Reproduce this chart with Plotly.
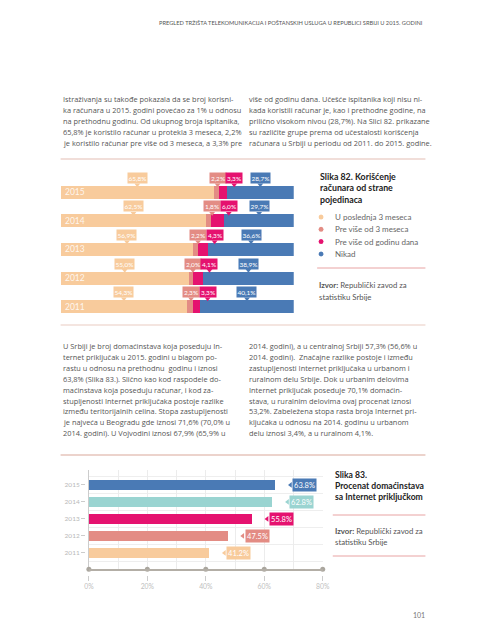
import plotly.graph_objects as go

W, H = 489, 640
def px(x): return x / W
def py(y): return 1 - y / H

FONT = "Lato"
BODY_FONT = "Open Sans"

# ---------------- data ----------------
years = [2011, 2012, 2013, 2014, 2015]
series_names = ["U poslednja 3 meseca", "Pre više od 3 meseca", "Pre više od godinu dana", "Nikad"]
last_3_months = [54.3, 55.0, 56.9, 62.5, 65.8]
over_3_months = [2.3, 2.0, 2.2, 1.8, 2.2]
over_1_year = [3.3, 4.1, 4.3, 6.0, 3.3]
never = [40.1, 38.9, 36.6, 29.7, 28.7]

internet_years = [2011, 2012, 2013, 2014, 2015]
internet_share = [41.2, 47.5, 55.8, 62.8, 63.8]
x_ticks = [0, 20, 40, 60, 80]
x_tick_labels = ["0%", "20%", "40%", "60%", "80%"]

series_colors = ["#F8CB9C", "#E38C84", "#E5126F", "#4A7AB5"]
internet_colors = ["#F8CB9C", "#E38C84", "#E5126F", "#9AD4D1", "#4A7AB5"]

header = "PREGLED TRŽIŠTA TELEKOMUNIKACIJA I POŠTANSKIH USLUGA U REPUBLICI SRBIJI U 2015. GODINI"
para1_col1 = [
    "Istraživanja su takođe pokazala da se broj korisni-",
    "ka računara u 2015. godini povećao za 1% u odnosu",
    "na prethodnu godinu. Od ukupnog broja ispitanika,",
    "65,8% je koristilo računar u protekla 3 meseca, 2,2%",
    "je koristilo računar pre više od 3 meseca, a 3,3% pre",
]
para1_col2 = [
    "više od godinu dana. Učešće ispitanika koji nisu ni-",
    "kada koristili računar je, kao i prethodne godine, na",
    "prilično visokom nivou (28,7%). Na Slici 82. prikazane",
    "su različite grupe prema od učestalosti korišćenja",
    "računara u Srbiji u periodu od 2011. do 2015. godine.",
]
para2_col1 = [
    "U Srbiji je broj domaćinstava koja poseduju In-",
    "ternet priključak u 2015. godini u blagom po-",
    "rastu u odnosu na prethodnu  godinu i iznosi",
    "63,8% (Slika 83.). Slično kao kod raspodele do-",
    "maćinstava koja poseduju računar, i kod za-",
    "stupljenosti Internet priključaka postoje razlike",
    "između teritorijalnih celina. Stopa zastupljenosti",
    "je najveća u Beogradu gde iznosi 71,6% (70,0% u",
    "2014. godini). U Vojvodini iznosi 67,9% (65,9% u",
]
para2_col2 = [
    "2014. godini), a u centralnoj Srbiji 57,3% (56,6% u",
    "2014. godini).  Značajne razlike postoje i između",
    "zastupljenosti Internet priključaka u urbanom i",
    "ruralnom delu Srbije. Dok u urbanim delovima",
    "Internet priključak poseduje 70,1% domaćin-",
    "stava, u ruralnim delovima ovaj procenat iznosi",
    "53,2%. Zabeležena stopa rasta broja Internet pri-",
    "ključaka u odnosu na 2014. godinu u urbanom",
    "delu iznosi 3,4%, a u ruralnom 4,1%.",
]
title82 = ["Slika 82. Korišćenje", "računara od strane", "pojedinaca"]
title83 = ["Slika 83.", "Procenat domaćinstava", "sa Internet priključkom"]
source_lines = ["<b>Izvor:</b> Republički zavod za", "statistiku Srbije"]

# ---------------- geometry ----------------
C1_LEFT, C1_RIGHT = 57, 296
C1_TOP, C1_BOT = 165.4, 322.2
C1_RANGE = [2010.45, 2015.95]
C1_PXU = (C1_BOT - C1_TOP) / (C1_RANGE[1] - C1_RANGE[0])
C1_PXPCT = (C1_RIGHT - C1_LEFT) / 100

C2_LEFT, C2_RIGHT = 86, 325.7
C2_TOP, C2_BOT = 470, 569.3
C2_RANGE = [2010.04, 2015.88]
C2_PXPCT = (C2_RIGHT - C2_LEFT) / 80

fig = go.Figure()
annotations = []
shapes = []

def text(x, y, s, size=7.5, color="#555555", anchor="left", bold=False, family=FONT):
    annotations.append(dict(
        x=px(x), y=py(y), xref="paper", yref="paper", text=("<b>%s</b>" % s) if bold else s,
        showarrow=False, xanchor=anchor, yanchor="middle",
        font=dict(family=family, size=size, color=color)))

def hline(x0, x1, y, color, width=1):
    shapes.append(dict(type="line", xref="paper", yref="paper", x0=px(x0), x1=px(x1),
                       y0=py(y), y1=py(y), line=dict(color=color, width=width)))

# ---------------- chart 1: stacked bars ----------------
all_series = [last_3_months, over_3_months, over_1_year, never]
for name, vals, col in zip(series_names, all_series, series_colors):
    fig.add_trace(go.Bar(y=years, x=vals, orientation="h", name=name, marker=dict(color=col, line=dict(width=0)),
                         width=0.456, xaxis="x", yaxis="y", showlegend=False, hoverinfo="skip"))

tri_x, tri_y, tri_c = [], [], []
for i, yr in enumerate(years):
    vals = [s[i] for s in all_series]
    cum = [sum(vals[:k]) for k in range(5)]
    centers = [(cum[k] + cum[k + 1]) / 2 for k in range(4)]
    labels = [("%.1f%%" % v).replace(".", ",") for v in vals]
    widths = [16 if len(l) <= 4 else 19 for l in labels]
    meet = centers[2] + 3 / C1_PXPCT
    xs = [centers[0], meet - (widths[1] / 2 + 0.5) / C1_PXPCT, meet + (widths[2] / 2 + 0.5) / C1_PXPCT, centers[3]]
    for k in range(4):
        annotations.append(dict(x=xs[k], y=yr, xref="x", yref="y", yshift=14.5, text=labels[k],
                                showarrow=False, bgcolor=series_colors[k], width=widths[k], height=10,
                                borderpad=0, font=dict(family=FONT, size=6.5, color="white")))
        tri_x.append(xs[k]); tri_y.append(yr + 7.8 / C1_PXU); tri_c.append(series_colors[k])
    annotations.append(dict(x=0, y=yr, xref="x", yref="y", xanchor="left", xshift=2, text=str(yr),
                            showarrow=False, font=dict(family=FONT, size=8.5, color="rgba(255,255,255,0.85)")))
fig.add_trace(go.Scatter(x=tri_x, y=tri_y, mode="markers", xaxis="x", yaxis="y", showlegend=False,
                         hoverinfo="skip", cliponaxis=False,
                         marker=dict(symbol="triangle-down", size=5, color=tri_c, line=dict(width=0))))

# ---------------- chart 2: internet bars ----------------
fig.add_trace(go.Bar(y=internet_years, x=internet_share, orientation="h", width=0.59,
                     marker=dict(color=internet_colors, line=dict(width=0)),
                     xaxis="x2", yaxis="y2", showlegend=False, hoverinfo="skip"))
t2x = [v + 15.5 / C2_PXPCT for v in internet_share]
fig.add_trace(go.Scatter(x=t2x, y=internet_years, mode="markers", xaxis="x2", yaxis="y2", showlegend=False,
                         hoverinfo="skip", cliponaxis=False,
                         marker=dict(symbol="triangle-left", size=5, color=internet_colors, line=dict(width=0))))
for yr, v, col in zip(internet_years, internet_share, internet_colors):
    annotations.append(dict(x=v, y=yr, xref="x2", yref="y2", xanchor="left", xshift=17,
                            text="%.1f%%" % v, showarrow=False, bgcolor=col, width=23, height=12, borderpad=0,
                            font=dict(family=FONT, size=7.5, color="white")))
# axis dots
fig.add_trace(go.Scatter(x=x_ticks, y=[C2_RANGE[0]] * len(x_ticks), mode="markers", xaxis="x3", yaxis="y2",
                         showlegend=False, hoverinfo="skip", cliponaxis=False,
                         marker=dict(size=5, color="#aaa69e")))

# ---------------- page text ----------------
text(431, 22, header, size=5.7, color="#555555", anchor="right")
for i, l in enumerate(para1_col1):
    text(57, 99 + i * 11, l, size=7.4, family=BODY_FONT)
for i, l in enumerate(para1_col2):
    text(248, 99 + i * 11, l, size=7.4, family=BODY_FONT)
for i, l in enumerate(para2_col1):
    text(57, 346 + i * 10.9, l, size=7.4, family=BODY_FONT)
for i, l in enumerate(para2_col2):
    text(248, 346 + i * 10.9, l, size=7.4, family=BODY_FONT)

hline(57, 431, 159, "#ecd3cc", 1.5)
hline(57, 431, 325, "#f0dcd6", 1.5)
hline(57, 431, 455, "#ecd3cc", 2)

for i, l in enumerate(title82):
    text(321, 176 + i * 11.5, l, size=8.8, color="#222222", bold=True)
for i, nm in enumerate(series_names):
    yy = 217 + i * 12.3
    shapes.append(dict(type="circle", xref="paper", yref="paper", x0=px(321.5), x1=px(326.5),
                       y0=py(yy + 2.5), y1=py(yy - 2.5), fillcolor=series_colors[i], line=dict(width=0)))
    text(336, yy, nm, size=8, color="#666666")
hline(320, 431, 268, "#e8a3a3", 1)
for i, l in enumerate(source_lines):
    text(320, 285 + i * 11.5, l, size=7.8, color="#555555")

for i, l in enumerate(title83):
    text(336, 475 + i * 11, l, size=8.6, color="#222222", bold=True)
hline(336, 431, 515, "#e8a3a3", 1)
for i, l in enumerate(source_lines):
    text(336, 531 + i * 11, l, size=7.8, color="#555555")
hline(336, 431, 556, "#e8a3a3", 1)

text(424, 615, "101", size=7, color="#777777", anchor="center")

fig.update_layout(
    width=W, height=H, margin=dict(l=0, r=0, t=0, b=0),
    paper_bgcolor="white", plot_bgcolor="white", barmode="stack",
    xaxis=dict(domain=[px(C1_LEFT), px(C1_RIGHT)], range=[0, 100], visible=False, fixedrange=True),
    yaxis=dict(domain=[py(C1_BOT), py(C1_TOP)], range=C1_RANGE, visible=False, fixedrange=True),
    xaxis2=dict(domain=[px(C2_LEFT), px(C2_RIGHT)], range=[0, 80], anchor="y2", showticklabels=False, ticks="",
                showgrid=True, dtick=10, gridcolor="#ececec", gridwidth=1,
                zeroline=True, zerolinecolor="#cccccc", zerolinewidth=1,
                showline=True, linecolor="#b3aea6", linewidth=1.5, fixedrange=True),
    xaxis3=dict(overlaying="x2", anchor="free", position=py(575), range=[0, 80], tickmode="array",
                tickvals=x_ticks, ticktext=x_tick_labels, ticks="outside", ticklen=5, tickcolor="#cccccc",
                showgrid=False, showline=False, zeroline=False,
                tickfont=dict(family=FONT, size=6.8, color="#c0c0c0"), fixedrange=True),
    yaxis2=dict(domain=[py(C2_BOT), py(C2_TOP)], range=C2_RANGE, anchor="free", position=px(82),
                tickvals=internet_years, ticks="outside", ticklen=4, tickcolor="#cccccc", showgrid=False,
                zeroline=False, showline=False, tickfont=dict(family=FONT, size=6.5, color="#b8b8b8"),
                minor=dict(tick0=0.5, dtick=1, showgrid=True, gridcolor="#eeeeee", ticks=""),
                fixedrange=True),
    annotations=annotations, shapes=shapes,
)

fig.write_html("out.html", config={"displayModeBar": False},
               post_script="document.body.style.margin='0';document.body.style.overflow='hidden';")
